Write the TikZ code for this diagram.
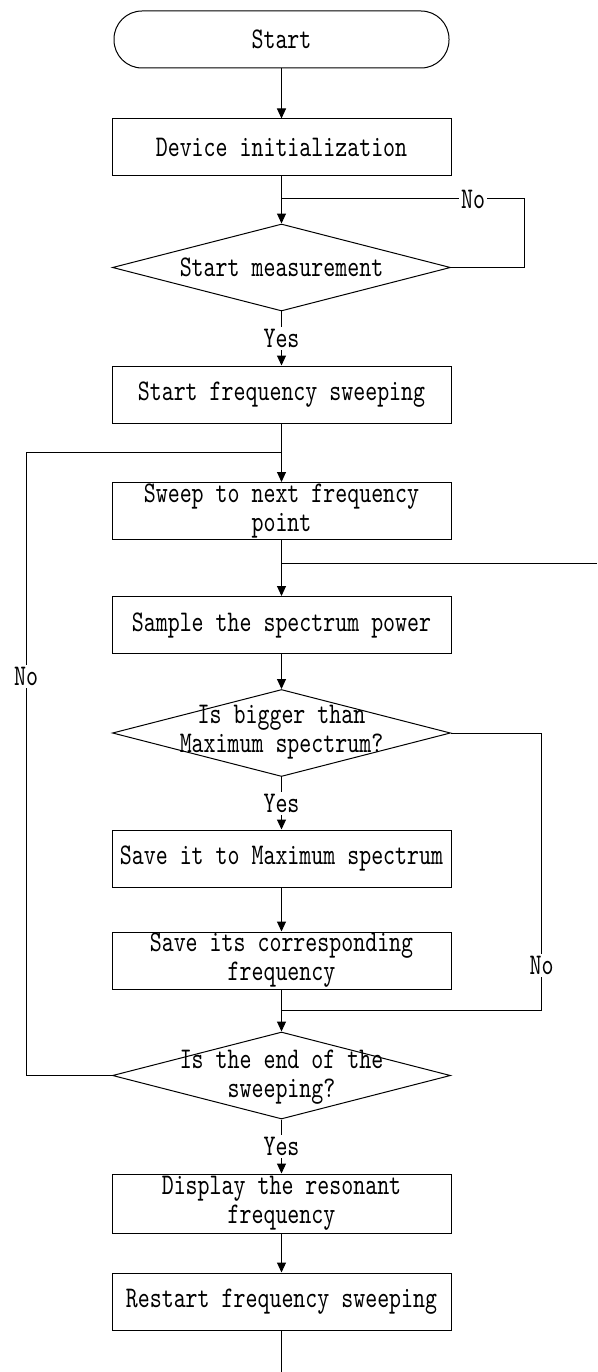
\documentclass[tikz,border=0pt]{standalone}
\usepackage{fontspec}
\usetikzlibrary{shapes.geometric,arrows.meta}
\newfontfamily\flowfont{lmmono10-regular}[Extension=.otf,FakeStretch=0.76]
\begin{document}
\begin{tikzpicture}[x=1pt,y=-1pt,
  every node/.style={font=\flowfont\fontsize{30}{29}\selectfont},
  box/.style={draw,line width=1pt,rectangle,minimum width=339pt,minimum height=57pt,inner sep=0pt,align=center},
  term/.style={draw,line width=1pt,rectangle,rounded corners=28pt,minimum width=335pt,minimum height=57pt,inner sep=0pt},
  dia/.style={draw,line width=1pt,diamond,minimum width=338pt,minimum height=87pt,inner sep=0pt},
  diatext/.style={align=center,inner sep=0pt},
  conn/.style={line width=1pt},
  arr/.style={conn,-{Triangle[length=10pt,width=9pt]}},
  lbl/.style={fill=white,inner sep=2pt}]
\useasboundingbox (0,0) rectangle (597,1372);

% process steps
\node[term] (start) at (281.5,39.5) {Start};
\node[box] (dev) at (281.5,147.5) {Device initialization};
\node[dia] (d1) at (281.5,267.5) {};
\node[diatext] (d1t) at (d1) {Start measurement};
\node[box] (sfs) at (281.5,394.5) {Start frequency sweeping};
\node[box] (sweep) at (281.5,511) {Sweep to next frequency\\point};
\node[box] (sample) at (281.5,625) {Sample the spectrum power};
\node[dia] (d2) at (281.5,733) {};
\node[diatext] (d2t) at (281.5,732) {Is bigger than\\Maximum spectrum?};
\node[box] (save1) at (281.5,858.5) {Save it to Maximum spectrum};
\node[box] (save2) at (281.5,960.5) {Save its corresponding\\frequency};
\node[dia] (d3) at (281.5,1075.5) {};
\node[diatext] (d3t) at (281.5,1077) {Is the end of the\\sweeping?};
\node[box,minimum height=59pt] (disp) at (281.5,1203.5) {Display the resonant\\frequency};
\node[box] (restart) at (281.5,1301.5) {Restart frequency sweeping};

% junction points and loose ends
\coordinate (j1) at (281.5,199);
\coordinate (j2) at (281.5,452);
\coordinate (j3) at (281.5,563);
\coordinate (j4) at (281.5,1010);
\coordinate (loose) at (597,563);
\coordinate (tail) at (281.5,1372);

% main flow
\draw[arr] (start) -- (dev);
\draw[arr] (dev) -- (d1);
\draw[arr] (d1) -- node[lbl]{Yes} (sfs);
\draw[arr] (sfs) -- (sweep);
\draw[arr] (sweep) -- (sample);
\draw[arr] (sample) -- (d2);
\draw[arr] (d2) -- node[lbl]{Yes} (save1);
\draw[arr] (save1) -- (save2);
\draw[arr] (save2) -- (d3);
\draw[arr] (d3) -- node[lbl]{Yes} (disp);
\draw[arr] (disp) -- (restart);
\draw[conn] (restart) -- (tail);

% loops back into the main flow
\draw[conn] (d1.east) -- (524,267.5) -- (524,199) -- node[lbl,pos=0.21]{No} (j1);
\draw[conn] (d2.east) -- (541.5,733) -- node[lbl,pos=0.84]{No} (541.5,1010) -- (j4);
\draw[conn] (d3.west) -- (26,1075.5) -- node[lbl,pos=0.64]{No} (26,452) -- (j2);
\draw[conn] (j3) -- (loose);
\end{tikzpicture}
\end{document}
